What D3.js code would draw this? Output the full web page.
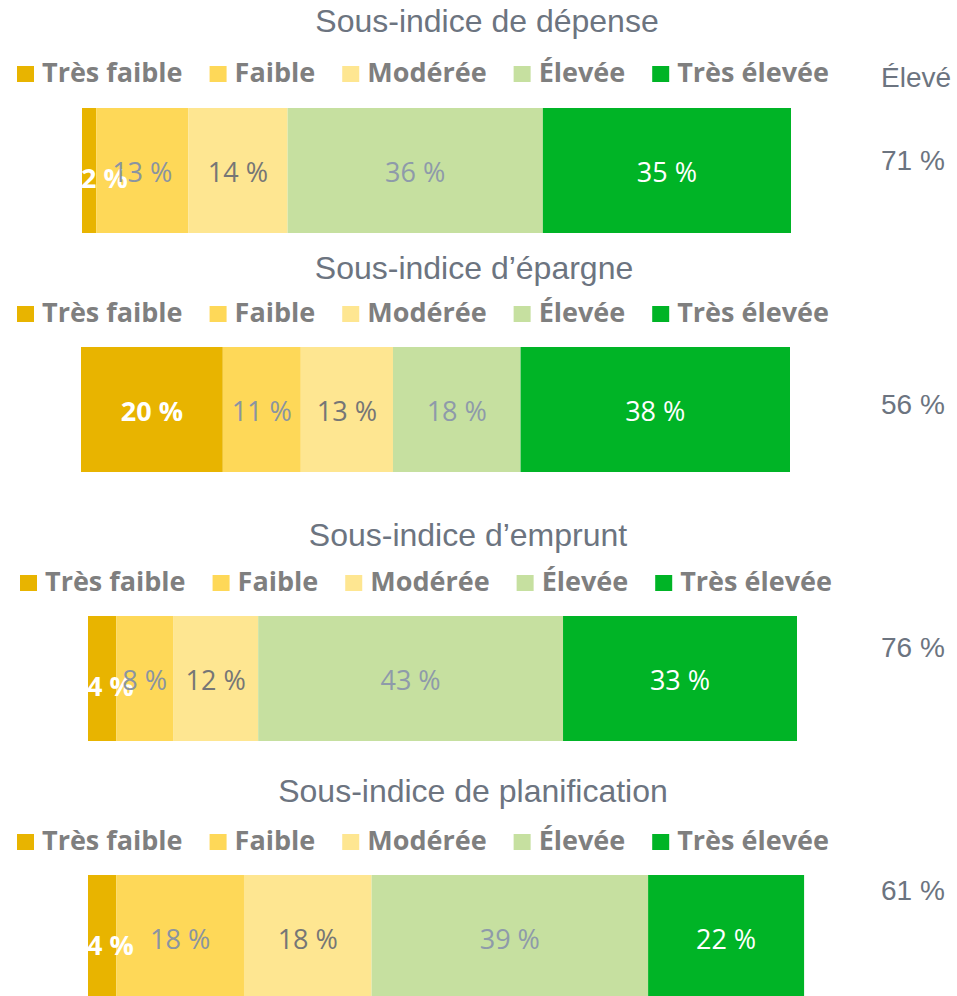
<!DOCTYPE html>
<html>
<head>
<meta charset="utf-8">
<script src="https://cdn.jsdelivr.net/npm/d3@7"></script>
<style>
  html, body { margin: 0; padding: 0; background: #fff; }
  #draw_svg { width: 957px; height: 996px; overflow: hidden; }
</style>
</head>
<body>
<div id="draw_svg"></div>
<script>
/**
 * Data
 */
const categories = ['Très faible', 'Faible', 'Modérée', 'Élevée', 'Très élevée'];
const titles = ['Sous-indice de dépense', 'Sous-indice d’épargne', 'Sous-indice d’emprunt', 'Sous-indice de planification'];
const depense = [2, 13, 14, 36, 35];
const epargne = [20, 11, 13, 18, 38];
const emprunt = [4, 8, 12, 43, 33];
const planification = [4, 18, 18, 39, 22];
const eleve = [71, 56, 76, 61];
const eleveHeader = 'Élevé';

/**
 * Style and layout (kept apart from the values)
 */
const colors = ['#E8B400', '#FED858', '#FEE691', '#C6E0A0', '#00B426'];
const labelColors = ['#FFFFFF', '#8A94A1', '#767676', '#8E9AAA', '#FFFFFF'];
const labelWeights = [700, 400, 400, 400, 400];
const layout = [
    {titleX: 487, titleY: 32,  legX: 17, legY: 82,  barX: 82, barY: 108, rightY: 170},
    {titleX: 474, titleY: 279, legX: 17, legY: 322, barX: 81, barY: 347, rightY: 414},
    {titleX: 468, titleY: 546, legX: 20, legY: 591, barX: 88, barY: 616, rightY: 657},
    {titleX: 473, titleY: 802, legX: 17, legY: 850, barX: 88, barY: 875, rightY: 900}
];
const barW = 709, barH = 125, rightX = 881;
const slate = '#6C7480';
const sans = "'Open Sans', 'DejaVu Sans', sans-serif";
const arial = "'Liberation Sans', Arial, sans-serif";

/**
 * Stack the values of one panel
 */
getStack = (values) => {
    let acc = 0;
    return values.map((v, i) => {
        const d = {i, v, x0: acc, x1: acc + v};
        acc += v;
        return d;
    });
}

/**
 * Draw one panel: title, legend, bar, right value
 */
drawPanel = (svg, values, p, idx) => {
    const g = svg.append('g');
    const x = d3.scaleLinear().domain([0, 100]).range([p.barX, p.barX + barW]);
    const y = d3.scaleBand().domain([titles[idx]]).range([p.barY, p.barY + barH]).padding(0);

    g.append('text')
        .attr('x', p.titleX).attr('y', p.titleY)
        .attr('text-anchor', 'middle')
        .style('font-family', arial).style('font-size', '32px')
        .attr('fill', slate)
        .text(titles[idx]);

    // legend, laid out item by item
    let lx = p.legX;
    categories.forEach((c, i) => {
        g.append('rect')
            .attr('x', lx).attr('y', p.legY - 16)
            .attr('width', 17).attr('height', 16)
            .attr('fill', colors[i]);
        const t = g.append('text')
            .attr('x', lx + 25).attr('y', p.legY)
            .style('font-family', sans).style('font-size', '27px').style('font-weight', 700)
            .attr('fill', '#7F7F7F')
            .text(c);
        lx += 25 + t.node().getComputedTextLength() + 27;
    });

    const stack = getStack(values);
    const clipId = 'clip' + idx;
    g.append('clipPath').attr('id', clipId)
        .append('rect')
        .attr('x', x(0)).attr('y', y(titles[idx]))
        .attr('width', x(d3.sum(values)) - x(0)).attr('height', y.bandwidth());

    g.selectAll('rect.seg')
        .data(stack)
        .enter()
        .append('rect')
        .attr('class', 'seg')
        .attr('x', (d) => x(d.x0))
        .attr('y', y(titles[idx]))
        .attr('width', (d) => x(d.x1) - x(d.x0))
        .attr('height', y.bandwidth())
        .attr('fill', (d) => colors[d.i]);

    const mid = y(titles[idx]) + y.bandwidth() / 2;
    const labels = g.append('g').attr('clip-path', `url(#${clipId})`);
    stack.forEach((d) => {
        const t = labels.append('text')
            .attr('y', mid + 11)
            .style('font-family', sans).style('font-size', '27px')
            .style('font-weight', labelWeights[d.i])
            .attr('fill', labelColors[d.i])
            .text(d.v + ' %');
        const w = t.node().getComputedTextLength();
        const segW = x(d.x1) - x(d.x0);
        const cx = (x(d.x0) + x(d.x1)) / 2;
        if (w > segW) {
            // too narrow: pushed against the bar start, a bit lower
            t.attr('x', Math.max(cx - w / 2, x(0) - 1)).attr('y', mid + 17);
        } else {
            t.attr('x', cx).attr('text-anchor', 'middle');
        }
    });

    if (idx === 0) {
        g.append('text')
            .attr('x', rightX).attr('y', 87)
            .style('font-family', arial).style('font-size', '28px')
            .attr('fill', slate)
            .text(eleveHeader);
    }
    g.append('text')
        .attr('x', rightX).attr('y', p.rightY)
        .style('font-family', arial).style('font-size', '28px')
        .attr('fill', slate)
        .text(eleve[idx] + ' %');
}

/**
 * Page init
 */
pageInit = () => {
    const svg = d3.select('#draw_svg')
        .append('svg')
        .attr('width', 957)
        .attr('height', 996);

    [depense, epargne, emprunt, planification].forEach((vals, i) => {
        drawPanel(svg, vals, layout[i], i);
    });
}

window.onload = () => {
    pageInit();
}
</script>
</body>
</html>
